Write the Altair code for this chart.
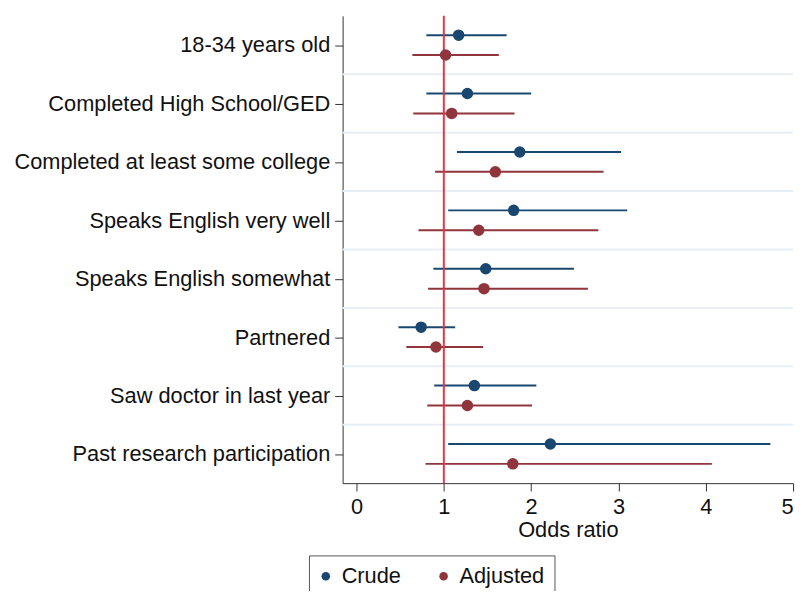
import json
import altair as alt
import pandas as pd

# ---- data ----
categories = [
    "18-34 years old",
    "Completed High School/GED",
    "Completed at least some college",
    "Speaks English very well",
    "Speaks English somewhat",
    "Partnered",
    "Saw doctor in last year",
    "Past research participation",
]
crude_or = [1.17, 1.27, 1.87, 1.80, 1.48, 0.74, 1.35, 2.22]
crude_lo = [0.80, 0.80, 1.15, 1.05, 0.88, 0.48, 0.89, 1.05]
crude_hi = [1.72, 2.00, 3.03, 3.10, 2.49, 1.13, 2.06, 4.74]
adj_or = [1.02, 1.09, 1.59, 1.40, 1.46, 0.91, 1.27, 1.79]
adj_lo = [0.64, 0.65, 0.90, 0.71, 0.82, 0.57, 0.81, 0.79]
adj_hi = [1.63, 1.81, 2.83, 2.77, 2.65, 1.45, 2.01, 4.07]
series_names = ["Crude", "Adjusted"]
series_colors = ["#1a476f", "#90353b"]
x_ticks = [0, 1, 2, 3, 4, 5]
reference_or = 1

rows = []
for i, c in enumerate(categories):
    rows.append({"category": c, "idx": i, "series": "Crude", "side": -1,
                 "or": crude_or[i], "lo": crude_lo[i], "hi": crude_hi[i]})
    rows.append({"category": c, "idx": i, "series": "Adjusted", "side": 1,
                 "or": adj_or[i], "lo": adj_lo[i], "hi": adj_hi[i]})
df = pd.DataFrame(rows)
sep_df = pd.DataFrame({"sep": [i + 0.5 for i in range(len(categories) - 1)]})
ref_df = pd.DataFrame({"ref": [reference_or]})

FONT = "Liberation Sans"
FS = 22
label_expr = json.dumps(categories) + "[datum.value]"

xscale = alt.Scale(domain=[-0.159, 5.0], nice=False, zero=False)
yscale = alt.Scale(domain=[-0.5, len(categories) - 0.5], reverse=True, nice=False, zero=False)
color = alt.Color(
    "series:N",
    scale=alt.Scale(domain=series_names, range=series_colors),
    legend=alt.Legend(
        title=None, orient="none", legendX=-34, legendY=545,
        direction="horizontal", strokeColor="#555555", padding=10,
        labelFontSize=FS, labelFont=FONT, labelColor="#111111",
        symbolType="circle", symbolSize=75, symbolStrokeWidth=0,
        symbolOffset=-4, labelOffset=5, columnPadding=36, fillColor="white",
    ),
)

base = alt.Chart(df).transform_calculate(ypos="datum.idx + 0.17 * datum.side")

y_enc = alt.Y(
    "ypos:Q", scale=yscale,
    axis=alt.Axis(
        title=None, values=list(range(len(categories))), labelExpr=label_expr,
        grid=False, tickSize=8, labelPadding=5, labelFontSize=FS, labelFont=FONT,
        labelColor="#111111", domainColor="#333333", tickColor="#333333",
        labelLimit=400,
    ),
)
x_enc = alt.X(
    "lo:Q", scale=xscale,
    axis=alt.Axis(
        title="Odds ratio", values=x_ticks, format="d", grid=False, tickSize=8,
        labelPadding=6, labelFontSize=FS, labelFont=FONT, labelColor="#111111",
        titleFontSize=FS, titleFont=FONT, titleFontWeight="normal",
        titleColor="#111111", titlePadding=2, domainColor="#333333",
        tickColor="#333333",
    ),
)

seps = alt.Chart(sep_df).mark_rule(color="#e8eff4", strokeWidth=2).encode(
    y=alt.Y("sep:Q", scale=yscale)
)
ci = base.mark_rule(strokeWidth=2).encode(x=x_enc, x2="hi:Q", y=y_enc, color=color)
ref = alt.Chart(ref_df).mark_rule(color="#d93a4a", strokeWidth=2).encode(
    x=alt.X("ref:Q", scale=xscale)
)
pts = base.mark_circle(size=135, opacity=1).encode(
    x=alt.X("or:Q", scale=xscale), y=alt.Y("ypos:Q", scale=yscale), color=color
)

chart = (
    alt.layer(seps, ci, ref, pts)
    .properties(
        width=455, height=472,
        autosize=alt.AutoSizeParams(type="none"),
        padding={"left": 338, "top": 5, "right": 8, "bottom": 106},
        background="white",
    )
    .configure_view(stroke=None)
)

chart.save("out.html", embed_options={"renderer": "svg", "actions": False})
